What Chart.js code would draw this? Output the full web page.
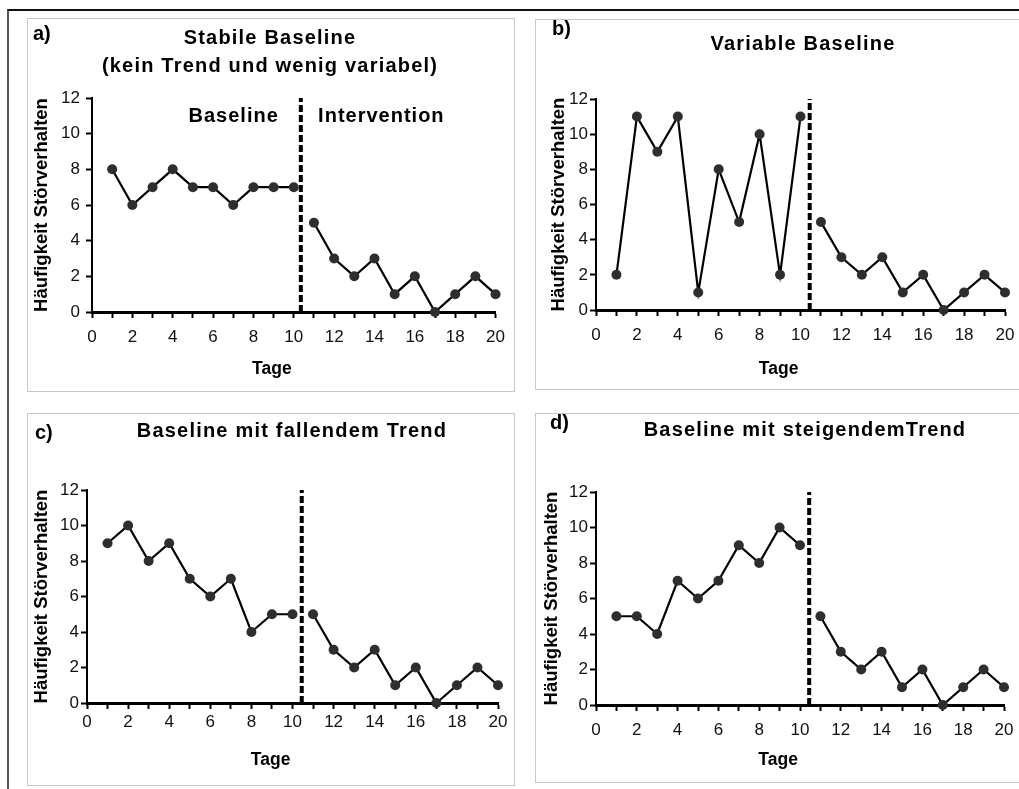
<!DOCTYPE html>
<html>
<head>
<meta charset="utf-8">
<script src="https://cdn.jsdelivr.net/npm/chart.js@4.4.1/dist/chart.umd.min.js"></script>
<style>
body{margin:0;background:#fff;overflow:hidden;font-family:"Liberation Sans",Arial,sans-serif;width:1019px;height:789px}
#frame{position:absolute;left:7px;top:9px;width:1100px;height:900px;border-top:2px solid #111;border-left:2px solid #555}
.panel{position:absolute;border:1px solid #c8c8c8;background:#fff;overflow:hidden}
.panel canvas{position:absolute;left:0;top:0}
.tag{position:absolute;font-weight:bold;font-size:20px;line-height:24px}
.ttl{position:absolute;font-weight:bold;font-size:20px;line-height:24px;letter-spacing:1.2px;white-space:nowrap;transform:translateX(-50%)}
</style>
</head>
<body>
<div id="frame"></div>

<div class="panel" style="left:27px;top:18px;width:486px;height:372px"><canvas id="ca" width="486" height="372"></canvas></div>
<div class="panel" style="left:535px;top:19px;width:498px;height:369px"><canvas id="cb" width="498" height="369"></canvas></div>
<div class="panel" style="left:27px;top:413px;width:486px;height:371px"><canvas id="cc" width="486" height="371"></canvas></div>
<div class="panel" style="left:535px;top:413px;width:498px;height:368px"><canvas id="cd" width="498" height="368"></canvas></div>

<div class="tag" style="left:33px;top:21px">a)</div>
<div class="ttl" style="left:270px;top:25px">Stabile Baseline</div>
<div class="ttl" style="left:270px;top:53px">(kein Trend und wenig variabel)</div>

<div class="tag" style="left:552px;top:16px">b)</div>
<div class="ttl" style="left:803px;top:31px">Variable Baseline</div>

<div class="tag" style="left:35px;top:420px">c)</div>
<div class="ttl" style="left:292px;top:418px">Baseline mit fallendem Trend</div>

<div class="tag" style="left:550px;top:410px">d)</div>
<div class="ttl" style="left:805px;top:417px">Baseline mit steigendemTrend</div>

<script>
// Tage
var baselineDays=[1,2,3,4,5,6,7,8,9,10]
var interventionDays=[11,12,13,14,15,16,17,18,19,20]

// Häufigkeit Störverhalten je Tag
var stabil=[8,6,7,8,7,7,6,7,7,7]
var variabel=[2,11,9,11,1,8,5,10,2,11]
var fallend=[9,10,8,9,7,6,7,4,5,5]
var steigend=[5,5,4,7,6,7,9,8,10,9]
var intervention=[5,3,2,3,1,2,0,1,2,1]

// Phasenwechsel (gestrichelte Linie) pro Panel
var phaseChange=[10.35,10.45,10.45,10.45]
var yMax=12, xMax=20

var FONT='"Liberation Sans", Arial, sans-serif'

function pts(days,vals){
  return days.map(function(d,i){return {x:d,y:vals[i]}})
}

var phaseText={
  id:'phaseText',
  afterDatasetsDraw:function(chart,args,opts){
    if(!opts.labels) return
    var ctx=chart.ctx, xs=chart.scales.x, ys=chart.scales.y
    ctx.save()
    ctx.font='bold 20px '+FONT
    ctx.letterSpacing='1px'
    ctx.fillStyle='#000'
    ctx.textAlign='center'
    ctx.textBaseline='middle'
    opts.labels.forEach(function(t,i){
      ctx.fillText(t,xs.getPixelForValue(opts.x[i]),ys.getPixelForValue(opts.y))
    })
    ctx.restore()
  }
}

function makeChart(id,vals,phase,lay,labels){
  var ctx=document.getElementById(id).getContext('2d')
  var lineStyle={borderColor:'#000',borderWidth:2.2,pointRadius:5,pointBackgroundColor:'#2e2e2e',
    pointBorderColor:'#2e2e2e',pointBorderWidth:0,showLine:true,clip:false,tension:0}
  return new Chart(ctx,{
    type:'scatter',
    data:{datasets:[
      Object.assign({label:'Baseline',data:pts(baselineDays,vals)},lineStyle),
      Object.assign({label:'Intervention',data:pts(interventionDays,intervention)},lineStyle),
      {label:'Phasenwechsel',data:[{x:phase,y:0},{x:phase,y:yMax}],showLine:true,borderColor:'#000',
        borderWidth:4,borderDash:[7,3],pointRadius:0,clip:false}
    ]},
    options:{
      responsive:false,
      animation:false,
      layout:{padding:{left:0,top:lay.top,right:lay.right,bottom:0}},
      plugins:{legend:{display:false},tooltip:{enabled:false},phaseText:labels||{}},
      scales:{
        x:{type:'linear',min:0,max:xMax,
          afterFit:function(s){s.height=lay.xh},
          border:{color:'#000',width:3},
          grid:{display:true,drawOnChartArea:false,drawTicks:true,tickLength:6,tickColor:'#000',tickWidth:2},
          ticks:{stepSize:1,autoSkip:false,maxRotation:0,padding:lay.xpad,color:'#111',font:{family:FONT,size:17},
            callback:function(v){return v%2===0?v:''}},
          title:{display:true,text:'Tage\u00a0\u00a0\u00a0\u00a0\u00a0\u00a0\u00a0\u00a0\u00a0',color:'#000',
            font:{family:FONT,size:17.5,weight:'bold'},padding:{top:0,bottom:lay.xtp}}
        },
        y:{min:0,max:yMax,
          afterFit:function(s){s.width=lay.yw},
          border:{color:'#000',width:2},
          grid:{display:true,drawOnChartArea:false,drawTicks:true,tickLength:6,tickColor:'#000',tickWidth:2},
          ticks:{stepSize:2,padding:lay.ypad,color:'#111',font:{family:FONT,size:17}},
          title:{display:true,text:'Häufigkeit Störverhalten',color:'#000',
            font:{family:FONT,size:18.5,weight:'bold'},padding:{top:lay.ytp,bottom:0}}
        }
      }
    },
    plugins:[phaseText]
  })
}

makeChart('ca',stabil,phaseChange[0],{top:79,right:12,xh:79,yw:64,xpad:9,ypad:6,xtp:11,ytp:3},
  {labels:['Baseline','Intervention'],x:[7.02,14.34],y:10.95})
makeChart('cb',variabel,phaseChange[1],{top:79,right:29,xh:79,yw:60,xpad:9,ypad:2,xtp:9,ytp:12})
makeChart('cc',fallend,phaseChange[2],{top:76,right:16,xh:82,yw:59,xpad:3,ypad:2,xtp:14,ytp:3})
makeChart('cd',steigend,phaseChange[3],{top:78,right:30,xh:77,yw:60,xpad:9,ypad:2,xtp:11,ytp:5})
</script>
</body>
</html>
